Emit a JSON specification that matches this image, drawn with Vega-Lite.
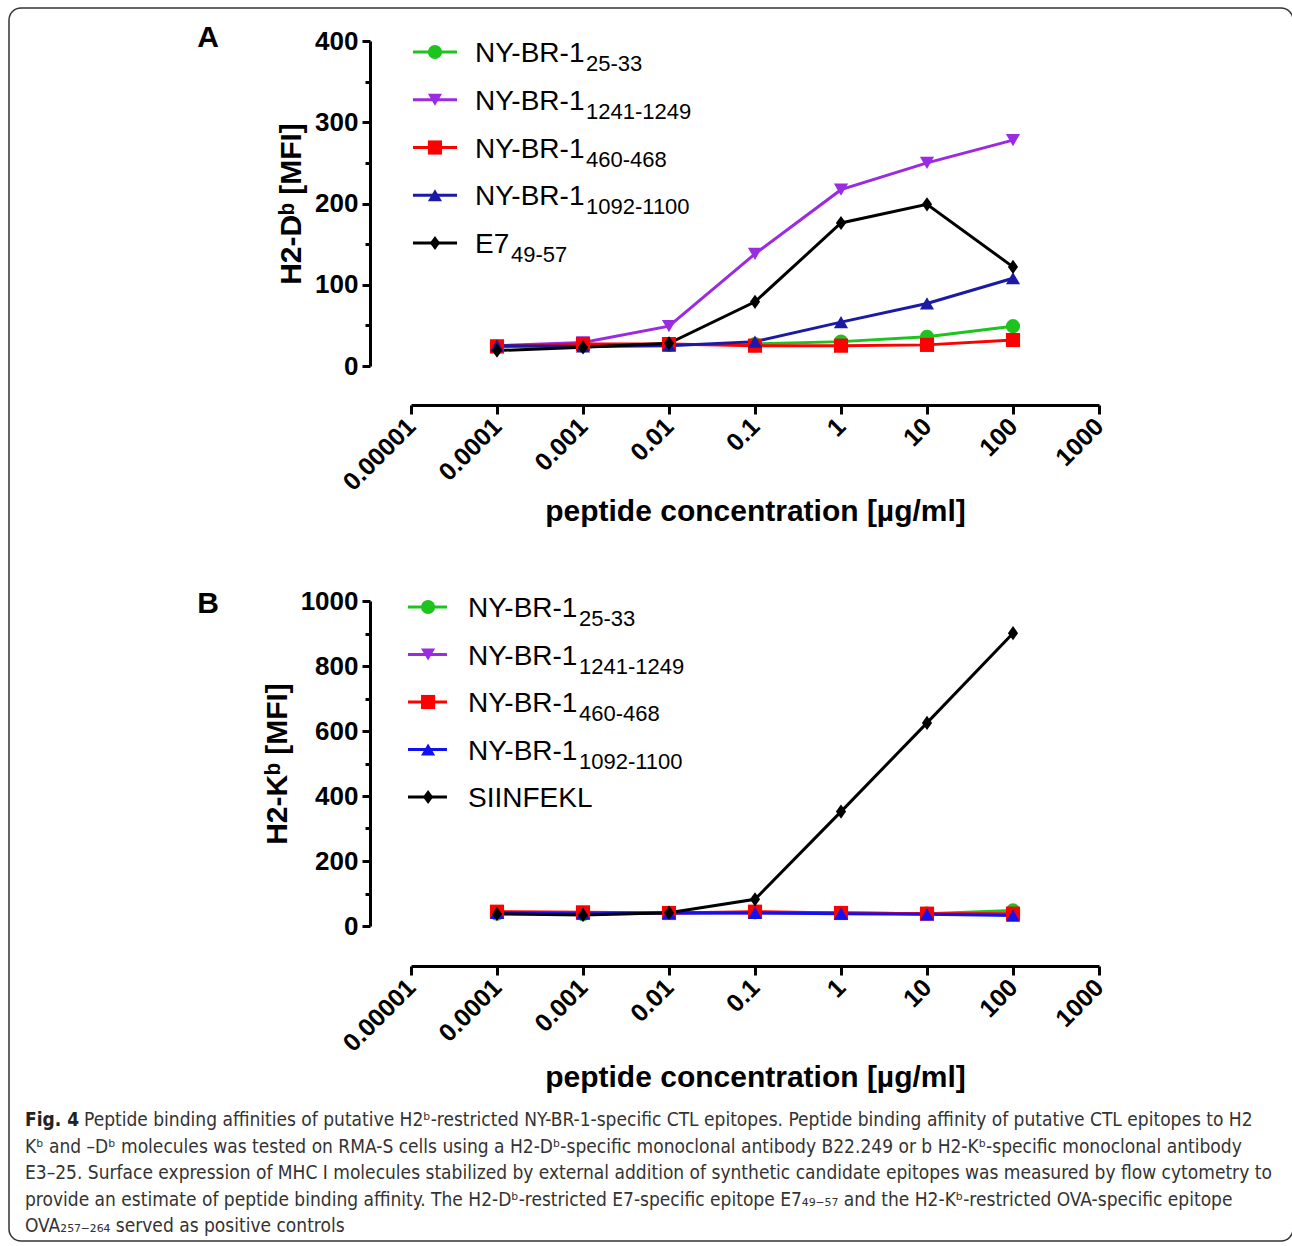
{
  "$schema": "https://vega.github.io/schema/vega-lite/v6.json",
  "width": 1284,
  "height": 1233,
  "padding": {"left": 9, "top": 8, "right": 0, "bottom": 5},
  "autosize": {"type": "none"},
  "background": "white",
  "config": {
    "view": {"stroke": "#333", "strokeWidth": 1.5, "cornerRadius": 12},
    "font": "Liberation Sans"
  },
  "datasets": {
    "bindA": [
      {"series": "NY-BR-1 25-33", "conc": 0.0001, "mfi": 24},
      {"series": "NY-BR-1 25-33", "conc": 0.001, "mfi": 25},
      {"series": "NY-BR-1 25-33", "conc": 0.01, "mfi": 26},
      {"series": "NY-BR-1 25-33", "conc": 0.1, "mfi": 27},
      {"series": "NY-BR-1 25-33", "conc": 1, "mfi": 30},
      {"series": "NY-BR-1 25-33", "conc": 10, "mfi": 36},
      {"series": "NY-BR-1 25-33", "conc": 100, "mfi": 49},
      {"series": "NY-BR-1 1241-1249", "conc": 0.0001, "mfi": 25},
      {"series": "NY-BR-1 1241-1249", "conc": 0.001, "mfi": 29},
      {"series": "NY-BR-1 1241-1249", "conc": 0.01, "mfi": 49},
      {"series": "NY-BR-1 1241-1249", "conc": 0.1, "mfi": 138},
      {"series": "NY-BR-1 1241-1249", "conc": 1, "mfi": 217},
      {"series": "NY-BR-1 1241-1249", "conc": 10, "mfi": 250},
      {"series": "NY-BR-1 1241-1249", "conc": 100, "mfi": 278},
      {"series": "NY-BR-1 460-468", "conc": 0.0001, "mfi": 24},
      {"series": "NY-BR-1 460-468", "conc": 0.001, "mfi": 27},
      {"series": "NY-BR-1 460-468", "conc": 0.01, "mfi": 27},
      {"series": "NY-BR-1 460-468", "conc": 0.1, "mfi": 25},
      {"series": "NY-BR-1 460-468", "conc": 1, "mfi": 25},
      {"series": "NY-BR-1 460-468", "conc": 10, "mfi": 26},
      {"series": "NY-BR-1 460-468", "conc": 100, "mfi": 32},
      {"series": "NY-BR-1 1092-1100", "conc": 0.0001, "mfi": 25},
      {"series": "NY-BR-1 1092-1100", "conc": 0.001, "mfi": 24},
      {"series": "NY-BR-1 1092-1100", "conc": 0.01, "mfi": 25},
      {"series": "NY-BR-1 1092-1100", "conc": 0.1, "mfi": 30},
      {"series": "NY-BR-1 1092-1100", "conc": 1, "mfi": 54},
      {"series": "NY-BR-1 1092-1100", "conc": 10, "mfi": 77},
      {"series": "NY-BR-1 1092-1100", "conc": 100, "mfi": 108},
      {"series": "E7 49-57", "conc": 0.0001, "mfi": 19},
      {"series": "E7 49-57", "conc": 0.001, "mfi": 23},
      {"series": "E7 49-57", "conc": 0.01, "mfi": 28},
      {"series": "E7 49-57", "conc": 0.1, "mfi": 79},
      {"series": "E7 49-57", "conc": 1, "mfi": 176},
      {"series": "E7 49-57", "conc": 10, "mfi": 199},
      {"series": "E7 49-57", "conc": 100, "mfi": 122}
    ],
    "bindB": [
      {"series": "NY-BR-1 25-33", "conc": 0.0001, "mfi": 38},
      {"series": "NY-BR-1 25-33", "conc": 0.001, "mfi": 36},
      {"series": "NY-BR-1 25-33", "conc": 0.01, "mfi": 40},
      {"series": "NY-BR-1 25-33", "conc": 0.1, "mfi": 42},
      {"series": "NY-BR-1 25-33", "conc": 1, "mfi": 40},
      {"series": "NY-BR-1 25-33", "conc": 10, "mfi": 38},
      {"series": "NY-BR-1 25-33", "conc": 100, "mfi": 48},
      {"series": "NY-BR-1 1241-1249", "conc": 0.0001, "mfi": 42},
      {"series": "NY-BR-1 1241-1249", "conc": 0.001, "mfi": 40},
      {"series": "NY-BR-1 1241-1249", "conc": 0.01, "mfi": 40},
      {"series": "NY-BR-1 1241-1249", "conc": 0.1, "mfi": 40},
      {"series": "NY-BR-1 1241-1249", "conc": 1, "mfi": 40},
      {"series": "NY-BR-1 1241-1249", "conc": 10, "mfi": 38},
      {"series": "NY-BR-1 1241-1249", "conc": 100, "mfi": 36},
      {"series": "NY-BR-1 460-468", "conc": 0.0001, "mfi": 44},
      {"series": "NY-BR-1 460-468", "conc": 0.001, "mfi": 42},
      {"series": "NY-BR-1 460-468", "conc": 0.01, "mfi": 40},
      {"series": "NY-BR-1 460-468", "conc": 0.1, "mfi": 44},
      {"series": "NY-BR-1 460-468", "conc": 1, "mfi": 40},
      {"series": "NY-BR-1 460-468", "conc": 10, "mfi": 38},
      {"series": "NY-BR-1 460-468", "conc": 100, "mfi": 38},
      {"series": "NY-BR-1 1092-1100", "conc": 0.0001, "mfi": 40},
      {"series": "NY-BR-1 1092-1100", "conc": 0.001, "mfi": 38},
      {"series": "NY-BR-1 1092-1100", "conc": 0.01, "mfi": 40},
      {"series": "NY-BR-1 1092-1100", "conc": 0.1, "mfi": 40},
      {"series": "NY-BR-1 1092-1100", "conc": 1, "mfi": 38},
      {"series": "NY-BR-1 1092-1100", "conc": 10, "mfi": 36},
      {"series": "NY-BR-1 1092-1100", "conc": 100, "mfi": 32},
      {"series": "SIINFEKL", "conc": 0.0001, "mfi": 37},
      {"series": "SIINFEKL", "conc": 0.001, "mfi": 34},
      {"series": "SIINFEKL", "conc": 0.01, "mfi": 41},
      {"series": "SIINFEKL", "conc": 0.1, "mfi": 82},
      {"series": "SIINFEKL", "conc": 1, "mfi": 352},
      {"series": "SIINFEKL", "conc": 10, "mfi": 625},
      {"series": "SIINFEKL", "conc": 100, "mfi": 901}
    ],
    "legendA": [
      {"series": "NY-BR-1 25-33", "main": "NY-BR-1", "sub": "25-33"},
      {"series": "NY-BR-1 1241-1249", "main": "NY-BR-1", "sub": "1241-1249"},
      {"series": "NY-BR-1 460-468", "main": "NY-BR-1", "sub": "460-468"},
      {"series": "NY-BR-1 1092-1100", "main": "NY-BR-1", "sub": "1092-1100"},
      {"series": "E7 49-57", "main": "E7", "sub": "49-57"}
    ],
    "legendB": [
      {"series": "NY-BR-1 25-33", "main": "NY-BR-1", "sub": "25-33"},
      {"series": "NY-BR-1 1241-1249", "main": "NY-BR-1", "sub": "1241-1249"},
      {"series": "NY-BR-1 460-468", "main": "NY-BR-1", "sub": "460-468"},
      {"series": "NY-BR-1 1092-1100", "main": "NY-BR-1", "sub": "1092-1100"},
      {"series": "SIINFEKL", "main": "SIINFEKL", "sub": ""}
    ],
    "caption": [
      {"line": 1, "text": "Peptide binding affinities of putative H2\u1d47-restricted NY-BR-1-specific CTL epitopes. Peptide binding affinity of putative CTL epitopes to H2"},
      {"line": 2, "text": "K\u1d47 and \u2013D\u1d47 molecules was tested on RMA-S cells using a H2-D\u1d47-specific monoclonal antibody B22.249 or b H2-K\u1d47-specific monoclonal antibody"},
      {"line": 3, "text": "E3\u201325. Surface expression of MHC I molecules stabilized by external addition of synthetic candidate epitopes was measured by flow cytometry to"},
      {"line": 4, "text": "provide an estimate of peptide binding affinity. The H2-D\u1d47-restricted E7-specific epitope E7\u2084\u2089\u208b\u2085\u2087 and the H2-K\u1d47-restricted OVA-specific epitope"},
      {"line": 5, "text": "OVA\u2082\u2085\u2087\u208b\u2082\u2086\u2084 served as positive controls"}
    ]
  },
  "resolve": {
    "scale": {"x": "independent", "y": "independent", "color": "independent", "shape": "independent"},
    "axis": {"x": "independent", "y": "independent"}
  },
  "layer": [
    {
      "data": {"name": "bindA"},
      "layer": [
        {
          "mark": {"type": "line", "strokeWidth": 3},
          "encoding": {
            "x": {"field": "conc", "type": "quantitative",
              "scale": {"type": "log", "domain": [0.00001, 1000], "range": [402, 1090], "nice": false},
              "axis": {"orient": "bottom", "offset": -836,
                "values": [0.00001, 0.0001, 0.001, 0.01, 0.1, 1, 10, 100, 1000], "format": "~g",
                "labelAngle": -45, "labelAlign": "right", "labelBaseline": "middle", "labelPadding": 8,
                "labelFont": "Liberation Sans", "labelFontSize": 25, "labelFontWeight": "bold", "labelColor": "#000",
                "labelOverlap": false, "labelFlush": false, "labelBound": false,
                "tickSize": 9, "tickWidth": 3, "tickColor": "#000",
                "domainWidth": 3, "domainColor": "#000", "grid": false,
                "title": "peptide concentration [\u00b5g/ml]", "titleFont": "Liberation Sans", "titleFontSize": 30,
                "titleFontWeight": "bold", "titleColor": "#000", "titlePadding": 1}},
            "y": {"field": "mfi", "type": "quantitative",
              "scale": {"domain": [0, 400], "range": [358, 33], "nice": false, "zero": false},
              "axis": {"orient": "left", "offset": -361, "format": "d",
                "values": [0, 50, 100, 150, 200, 250, 300, 350, 400],
                "labelExpr": "datum.value % 100 === 0 ? datum.label : ''",
                "tickSize": {"condition": {"test": "datum.value % 100 === 0", "value": 8}, "value": 5},
                "labelPadding": 4, "labelFont": "Liberation Sans", "labelFontSize": 26, "labelFontWeight": "bold", "labelColor": "#000",
                "labelOverlap": false, "labelFlush": false, "labelBound": false,
                "tickWidth": 3, "tickColor": "#000", "domainWidth": 3, "domainColor": "#000", "grid": false,
                "title": "H2-D\u1d47 [MFI]", "titleFont": "Liberation Sans", "titleFontSize": 30,
                "titleFontWeight": "bold", "titleColor": "#000", "titlePadding": 8}},
            "color": {"field": "series", "type": "nominal",
              "scale": {"domain": ["NY-BR-1 25-33", "NY-BR-1 1241-1249", "NY-BR-1 460-468", "NY-BR-1 1092-1100", "E7 49-57"],
                "range": ["#1ec41e", "#9a2be2", "#ff0000", "#1a1aa6", "#000000"]}, "legend": null}
          }
        },
        {
          "mark": {"type": "point", "filled": true, "opacity": 1, "size": 200},
          "encoding": {
            "x": {"field": "conc", "type": "quantitative"},
            "y": {"field": "mfi", "type": "quantitative"},
            "color": {"field": "series", "type": "nominal", "legend": null},
            "shape": {"field": "series", "type": "nominal",
              "scale": {"domain": ["NY-BR-1 25-33", "NY-BR-1 1241-1249", "NY-BR-1 460-468", "NY-BR-1 1092-1100", "E7 49-57"],
                "range": ["circle", "triangle-down", "square", "triangle-up", "M0,-1L0.72,0L0,1L-0.72,0Z"]}, "legend": null}
          }
        },
        {
          "data": {"values": [{"panel": "A"}]},
          "mark": {"type": "text", "fontSize": 30, "fontWeight": "bold", "font": "Liberation Sans", "align": "center", "baseline": "middle"},
          "encoding": {
            "x": {"datum": 0.0000000436, "type": "quantitative"},
            "y": {"datum": 403.7, "type": "quantitative"},
            "text": {"field": "panel"},
            "color": {"value": "#000"}
          }
        }
      ]
    },
    {
      "data": {"name": "legendA"},
      "encoding": {
        "y": {"field": "series", "type": "nominal",
          "scale": {"type": "point", "domain": ["NY-BR-1 25-33", "NY-BR-1 1241-1249", "NY-BR-1 460-468", "NY-BR-1 1092-1100", "E7 49-57"], "range": [44, 235], "padding": 0},
          "axis": null}
      },
      "layer": [
        {
          "mark": {"type": "rule", "strokeWidth": 3},
          "encoding": {
            "x": {"datum": 0.00001054, "type": "quantitative", "scale": {"type": "log", "domain": [0.00001, 1000], "range": [402, 1090], "nice": false}, "axis": null},
            "x2": {"datum": 0.0000343},
            "color": {"field": "series", "type": "nominal",
              "scale": {"domain": ["NY-BR-1 25-33", "NY-BR-1 1241-1249", "NY-BR-1 460-468", "NY-BR-1 1092-1100", "E7 49-57"],
                "range": ["#1ec41e", "#9a2be2", "#ff0000", "#1a1aa6", "#000000"]}, "legend": null}
          }
        },
        {
          "mark": {"type": "point", "filled": true, "opacity": 1, "size": 200},
          "encoding": {
            "x": {"datum": 0.000019, "type": "quantitative"},
            "color": {"field": "series", "type": "nominal", "legend": null},
            "shape": {"field": "series", "type": "nominal",
              "scale": {"domain": ["NY-BR-1 25-33", "NY-BR-1 1241-1249", "NY-BR-1 460-468", "NY-BR-1 1092-1100", "E7 49-57"],
                "range": ["circle", "triangle-down", "square", "triangle-up", "M0,-1L0.72,0L0,1L-0.72,0Z"]}, "legend": null}
          }
        },
        {
          "mark": {"type": "text", "align": "left", "baseline": "alphabetic", "fontSize": 28, "font": "Liberation Sans", "dy": 10},
          "encoding": {
            "x": {"datum": 0.0000555, "type": "quantitative"},
            "text": {"field": "main"},
            "color": {"value": "#000"}
          }
        },
        {
          "transform": [{"filter": "datum.main === 'NY-BR-1'"}],
          "mark": {"type": "text", "align": "left", "baseline": "alphabetic", "fontSize": 22, "font": "Liberation Sans", "dx": 111, "dy": 19},
          "encoding": {
            "x": {"datum": 0.0000555, "type": "quantitative"},
            "text": {"field": "sub"},
            "color": {"value": "#000"}
          }
        },
        {
          "transform": [{"filter": "datum.main === 'E7'"}],
          "mark": {"type": "text", "align": "left", "baseline": "alphabetic", "fontSize": 22, "font": "Liberation Sans", "dx": 36, "dy": 19},
          "encoding": {
            "x": {"datum": 0.0000555, "type": "quantitative"},
            "text": {"field": "sub"},
            "color": {"value": "#000"}
          }
        }
      ]
    },
    {
      "data": {"name": "bindB"},
      "layer": [
        {
          "mark": {"type": "line", "strokeWidth": 3},
          "encoding": {
            "x": {"field": "conc", "type": "quantitative",
              "scale": {"type": "log", "domain": [0.00001, 1000], "range": [402, 1090], "nice": false},
              "axis": {"orient": "bottom", "offset": -275,
                "values": [0.00001, 0.0001, 0.001, 0.01, 0.1, 1, 10, 100, 1000], "format": "~g",
                "labelAngle": -45, "labelAlign": "right", "labelBaseline": "middle", "labelPadding": 8,
                "labelFont": "Liberation Sans", "labelFontSize": 25, "labelFontWeight": "bold", "labelColor": "#000",
                "labelOverlap": false, "labelFlush": false, "labelBound": false,
                "tickSize": 9, "tickWidth": 3, "tickColor": "#000",
                "domainWidth": 3, "domainColor": "#000", "grid": false,
                "title": "peptide concentration [\u00b5g/ml]", "titleFont": "Liberation Sans", "titleFontSize": 30,
                "titleFontWeight": "bold", "titleColor": "#000", "titlePadding": 6}},
            "y": {"field": "mfi", "type": "quantitative",
              "scale": {"domain": [0, 1000], "range": [918, 593], "nice": false, "zero": false},
              "axis": {"orient": "left", "offset": -361, "format": "d",
                "values": [0, 100, 200, 300, 400, 500, 600, 700, 800, 900, 1000],
                "labelExpr": "datum.value % 200 === 0 ? datum.label : ''",
                "tickSize": {"condition": {"test": "datum.value % 200 === 0", "value": 8}, "value": 5},
                "labelPadding": 4, "labelFont": "Liberation Sans", "labelFontSize": 26, "labelFontWeight": "bold", "labelColor": "#000",
                "labelOverlap": false, "labelFlush": false, "labelBound": false,
                "tickWidth": 3, "tickColor": "#000", "domainWidth": 3, "domainColor": "#000", "grid": false,
                "title": "H2-K\u1d47 [MFI]", "titleFont": "Liberation Sans", "titleFontSize": 30,
                "titleFontWeight": "bold", "titleColor": "#000", "titlePadding": 8}},
            "color": {"field": "series", "type": "nominal",
              "scale": {"domain": ["NY-BR-1 25-33", "NY-BR-1 1241-1249", "NY-BR-1 460-468", "NY-BR-1 1092-1100", "SIINFEKL"],
                "range": ["#1ec41e", "#9a2be2", "#ff0000", "#1212f0", "#000000"]}, "legend": null}
          }
        },
        {
          "mark": {"type": "point", "filled": true, "opacity": 1, "size": 200},
          "encoding": {
            "x": {"field": "conc", "type": "quantitative"},
            "y": {"field": "mfi", "type": "quantitative"},
            "color": {"field": "series", "type": "nominal", "legend": null},
            "shape": {"field": "series", "type": "nominal",
              "scale": {"domain": ["NY-BR-1 25-33", "NY-BR-1 1241-1249", "NY-BR-1 460-468", "NY-BR-1 1092-1100", "SIINFEKL"],
                "range": ["circle", "triangle-down", "square", "triangle-up", "M0,-1L0.72,0L0,1L-0.72,0Z"]}, "legend": null}
          }
        },
        {
          "data": {"values": [{"panel": "B"}]},
          "mark": {"type": "text", "fontSize": 30, "fontWeight": "bold", "font": "Liberation Sans", "align": "center", "baseline": "middle"},
          "encoding": {
            "x": {"datum": 0.0000000436, "type": "quantitative"},
            "y": {"datum": 990.8, "type": "quantitative"},
            "text": {"field": "panel"},
            "color": {"value": "#000"}
          }
        }
      ]
    },
    {
      "data": {"name": "legendB"},
      "encoding": {
        "y": {"field": "series", "type": "nominal",
          "scale": {"type": "point", "domain": ["NY-BR-1 25-33", "NY-BR-1 1241-1249", "NY-BR-1 460-468", "NY-BR-1 1092-1100", "SIINFEKL"], "range": [599, 789], "padding": 0},
          "axis": null}
      },
      "layer": [
        {
          "mark": {"type": "rule", "strokeWidth": 3},
          "encoding": {
            "x": {"datum": 0.00000923, "type": "quantitative", "scale": {"type": "log", "domain": [0.00001, 1000], "range": [402, 1090], "nice": false}, "axis": null},
            "x2": {"datum": 0.0000262},
            "color": {"field": "series", "type": "nominal",
              "scale": {"domain": ["NY-BR-1 25-33", "NY-BR-1 1241-1249", "NY-BR-1 460-468", "NY-BR-1 1092-1100", "SIINFEKL"],
                "range": ["#1ec41e", "#9a2be2", "#ff0000", "#1212f0", "#000000"]}, "legend": null}
          }
        },
        {
          "mark": {"type": "point", "filled": true, "opacity": 1, "size": 200},
          "encoding": {
            "x": {"datum": 0.0000158, "type": "quantitative"},
            "color": {"field": "series", "type": "nominal", "legend": null},
            "shape": {"field": "series", "type": "nominal",
              "scale": {"domain": ["NY-BR-1 25-33", "NY-BR-1 1241-1249", "NY-BR-1 460-468", "NY-BR-1 1092-1100", "SIINFEKL"],
                "range": ["circle", "triangle-down", "square", "triangle-up", "M0,-1L0.72,0L0,1L-0.72,0Z"]}, "legend": null}
          }
        },
        {
          "mark": {"type": "text", "align": "left", "baseline": "alphabetic", "fontSize": 28, "font": "Liberation Sans", "dy": 10},
          "encoding": {
            "x": {"datum": 0.000046, "type": "quantitative"},
            "text": {"field": "main"},
            "color": {"value": "#000"}
          }
        },
        {
          "transform": [{"filter": "datum.main === 'NY-BR-1'"}],
          "mark": {"type": "text", "align": "left", "baseline": "alphabetic", "fontSize": 22, "font": "Liberation Sans", "dx": 111, "dy": 19},
          "encoding": {
            "x": {"datum": 0.000046, "type": "quantitative"},
            "text": {"field": "sub"},
            "color": {"value": "#000"}
          }
        }
      ]
    },
    {
      "data": {"name": "caption"},
      "encoding": {
        "y": {"field": "line", "type": "ordinal",
          "scale": {"type": "point", "domain": [1, 2, 3, 4, 5], "range": [1118, 1224], "padding": 0},
          "axis": null}
      },
      "layer": [
        {
          "transform": [{"filter": "datum.line === 1"}],
          "mark": {"type": "text", "align": "left", "baseline": "alphabetic", "font": "DejaVu Sans Condensed", "fontSize": 19, "dx": 59},
          "encoding": {
            "x": {"datum": 0, "type": "quantitative", "scale": {"domain": [0, 1], "range": [16, 1270]}, "axis": null},
            "text": {"field": "text"},
            "color": {"value": "#333"}
          }
        },
        {
          "transform": [{"filter": "datum.line > 1"}],
          "mark": {"type": "text", "align": "left", "baseline": "alphabetic", "font": "DejaVu Sans Condensed", "fontSize": 19},
          "encoding": {
            "x": {"datum": 0, "type": "quantitative"},
            "text": {"field": "text"},
            "color": {"value": "#333"}
          }
        },
        {
          "data": {"values": [{"line": 1, "lead": "Fig. 4"}]},
          "mark": {"type": "text", "align": "left", "baseline": "alphabetic", "font": "DejaVu Sans Condensed", "fontSize": 19, "fontWeight": "bold"},
          "encoding": {
            "x": {"datum": 0, "type": "quantitative"},
            "text": {"field": "lead"},
            "color": {"value": "#222"}
          }
        }
      ]
    }
  ]
}
